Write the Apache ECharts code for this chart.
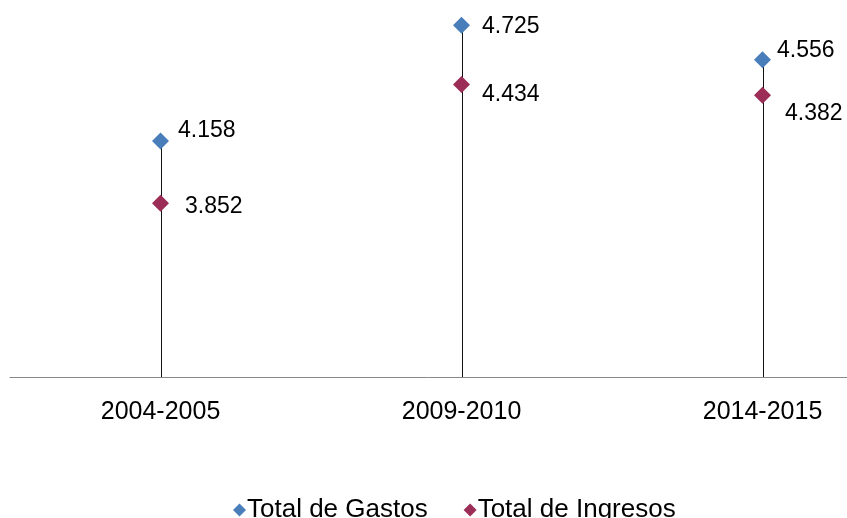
<!DOCTYPE html>
<html>
<head>
<meta charset="utf-8">
<script src="https://cdn.jsdelivr.net/npm/echarts@6/dist/echarts.min.js"></script>
<style>html,body{margin:0;padding:0;background:#fff;}#c{width:847px;height:518px;}</style>
</head>
<body>
<div id="c"></div>
<script>
var categories = ['2004-2005', '2009-2010', '2014-2015'];
var gastos = [4.158, 4.725, 4.556];
var ingresos = [3.852, 4.434, 4.382];
var gastosName = 'Total de Gastos';
var ingresosName = 'Total de Ingresos';
// label placement (style only)
var gastosLabelOffset = [[-3, -10], [0, 1], [-6, -9]];
var ingresosLabelOffset = [[4, 3], [0, 10], [2, 18]];

var font = 'Liberation Sans, Arial, sans-serif';
function pts(values, offsets) {
  return values.map(function (v, i) {
    return {value: [i, v], label: {offset: offsets[i]}};
  });
}
var catIdx = categories.map(function (c, i) { return i; });
var chart = echarts.init(document.getElementById('c'));
chart.setOption({
  animation: false,
  grid: {left: 10, right: 0, top: 10, bottom: 141},
  xAxis: {
    type: 'value', min: -0.5, max: 2.2807,
    splitLine: {show: false},
    axisLine: {show: true, onZero: false, lineStyle: {color: '#888', width: 1}},
    axisTick: {show: false},
    axisLabel: {color: '#000', fontSize: 25, fontFamily: font, margin: 23,
      customValues: catIdx,
      formatter: function (v) { return categories[Math.round(v)] || ''; }}
  },
  yAxis: {type: 'value', min: 3, max: 4.8, show: false, splitLine: {show: false}},
  legend: {
    data: [gastosName, ingresosName], left: 228, top: 492,
    icon: 'diamond', itemWidth: 13, itemHeight: 13, itemGap: 36,
    textStyle: {color: '#000', fontSize: 26, fontFamily: font, padding: [0, 0, 0, -4]}
  },
  series: [
    {type: 'custom', name: 'drop', silent: true, z: 1,
     data: gastos.map(function (v, i) { return [i, v]; }),
     renderItem: function (params, api) {
       var top = api.coord([api.value(0), api.value(1)]);
       var bot = api.coord([api.value(0), 3]);
       return {type: 'line', shape: {x1: Math.round(top[0]) + 0.5, y1: top[1], x2: Math.round(bot[0]) + 0.5, y2: bot[1]},
         style: {stroke: '#111', lineWidth: 1}};
     }},
    {type: 'scatter', name: gastosName, data: pts(gastos, gastosLabelOffset),
     symbol: 'diamond', symbolSize: 17,
     itemStyle: {color: '#4a7ebb', opacity: 1}, z: 3,
     label: {show: true, position: 'right', distance: 12,
       formatter: function (p) { return p.value[1].toFixed(3); },
       color: '#000', fontSize: 23, fontFamily: font}},
    {type: 'scatter', name: ingresosName, data: pts(ingresos, ingresosLabelOffset),
     symbol: 'diamond', symbolSize: 17,
     itemStyle: {color: '#9b2d57', opacity: 1}, z: 3,
     label: {show: true, position: 'right', distance: 12,
       formatter: function (p) { return p.value[1].toFixed(3); },
       color: '#000', fontSize: 23, fontFamily: font}}
  ]
});
</script>
</body>
</html>
